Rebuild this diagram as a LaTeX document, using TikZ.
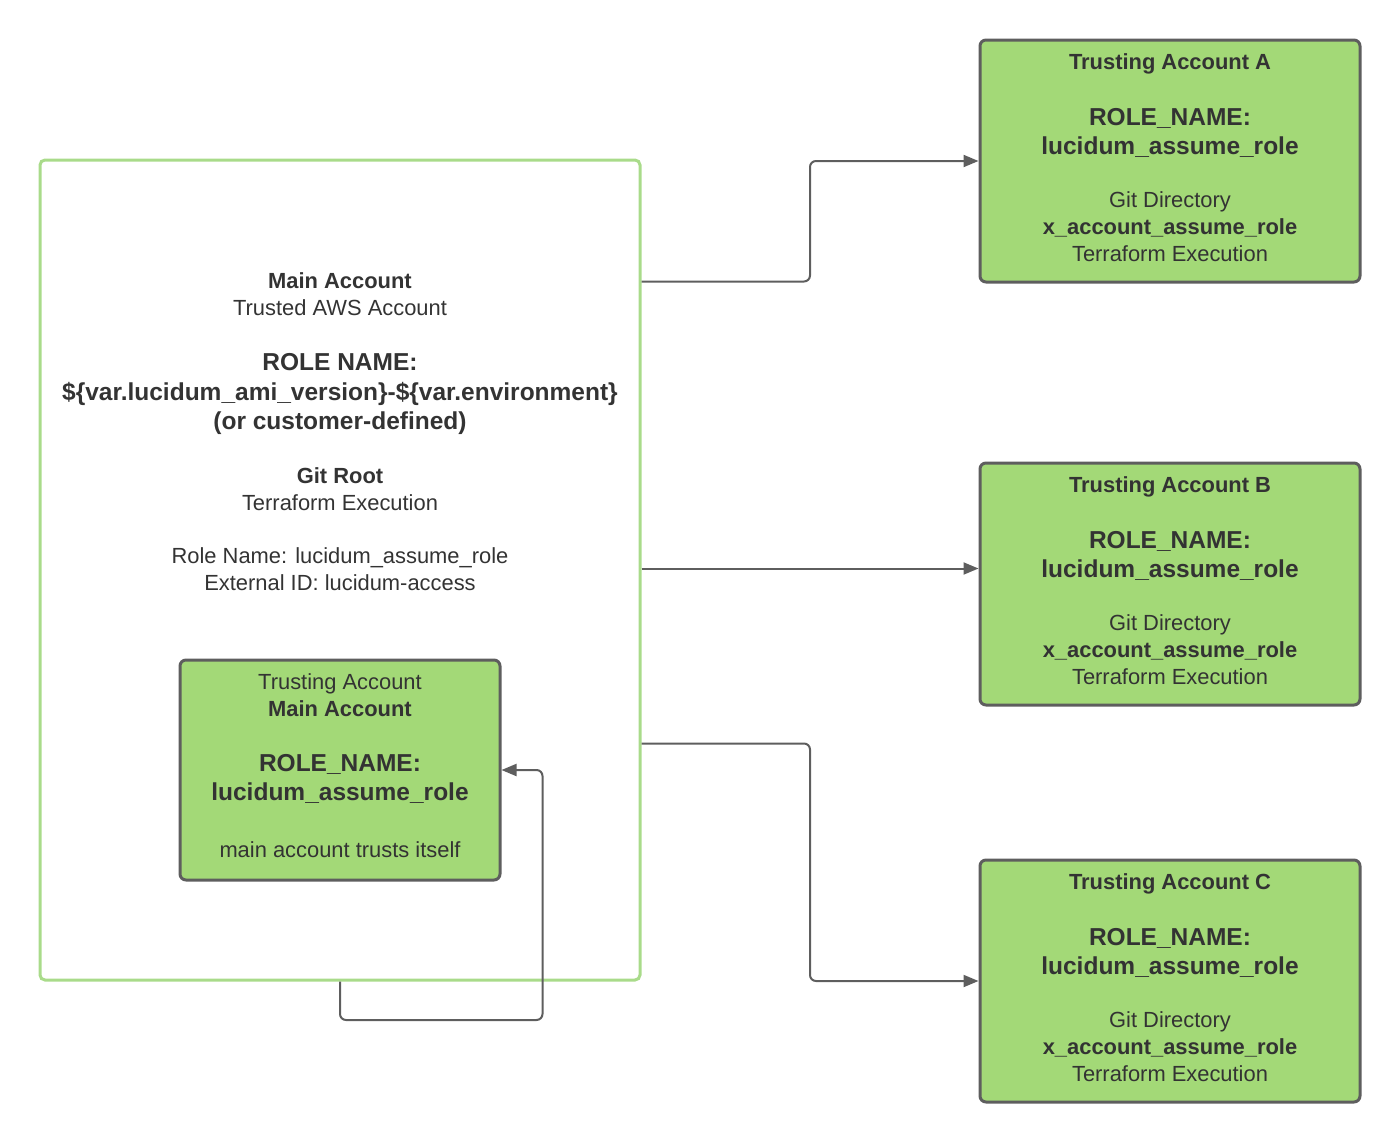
\documentclass[tikz,border=0pt]{standalone}
\usepackage{fontspec}
\setmainfont{Liberation Sans}
\usetikzlibrary{arrows.meta,calc}
\definecolor{gfill}{HTML}{A3D977}
\definecolor{gline}{HTML}{A9DB8A}
\definecolor{dline}{HTML}{5E5E5E}
\definecolor{txt}{HTML}{333333}
\tikzset{
  reg/.style={font=\fontsize{21.9}{27}\selectfont, text=txt, anchor=base, inner sep=0pt},
  regb/.style={font=\fontsize{21.9}{27}\selectfont\bfseries, text=txt, anchor=base, inner sep=0pt},
  big/.style={font=\fontsize{24.5}{29}\selectfont\bfseries, text=txt, anchor=base, inner sep=0pt},
  gbox/.style={draw=dline, fill=gfill, line width=3pt, rounded corners=6pt, inner sep=0pt},
  mainbox/.style={draw=gline, line width=3pt, rounded corners=5pt, inner sep=0pt},
  conn/.style={draw=dline, line width=2pt, rounded corners=6pt, -{Triangle[length=15pt,width=12pt]}},
}
\begin{document}
\begin{tikzpicture}[x=1pt,y=-1pt]
\useasboundingbox (0,0) rectangle (1400,1143);
% main box
\node[mainbox, minimum width=600, minimum height=820] (main) at (340,570) {};
\node[regb] (mt1) at (340,288) {Main Account};
\node[reg]  (mt2) at (340,315) {Trusted AWS Account};
\node[big]  (mt3) at (340,370) {ROLE NAME:};
\node[big]  (mt4) at (340,400) {\$\{var.lucidum\_ami\_version\}-\$\{var.environment\}};
\node[big]  (mt5) at (340,429) {(or customer-defined)};
\node[regb] (mt6) at (340,483) {Git Root};
\node[reg]  (mt7) at (340,510) {Terraform Execution};
\node[reg]  (mt8) at (340,563) {Role Name: lucidum\_assume\_role};
\node[reg]  (mt9) at (340,590) {External ID: lucidum-access};
% inner box
\node[gbox, minimum width=320, minimum height=220] (inner) at (340,770) {};
\node[reg]  (it1) at (340,689) {Trusting Account};
\node[regb] (it2) at (340,716) {Main Account};
\node[big]  (it3) at (340,771) {ROLE\_NAME:};
\node[big]  (it4) at (340,800) {lucidum\_assume\_role};
\node[reg]  (it5) at (340,857) {main account trusts itself};
% right boxes
\foreach \L/\t in {A/40,B/463,C/860}{
  \node[gbox, minimum width=380, minimum height=242] (acc\L) at (1170,{\t+121}) {};
  \node[regb] (a\L1) at (1170,{\t+29}) {Trusting Account \L};
  \node[big]  (a\L2) at (1170,{\t+85}) {ROLE\_NAME:};
  \node[big]  (a\L3) at (1170,{\t+114}) {lucidum\_assume\_role};
  \node[reg]  (a\L4) at (1170,{\t+167}) {Git Directory};
  \node[regb] (a\L5) at (1170,{\t+194}) {x\_account\_assume\_role};
  \node[reg]  (a\L6) at (1170,{\t+221}) {Terraform Execution};
}
% connector start points on the main box edge
\coordinate (mA) at ($(main.north east)+(0,123)$);
\coordinate (mB) at ($(main.north east)+(0,410)$);
\coordinate (mC) at ($(main.north east)+(0,585)$);
\draw[conn] (mA) -| ($(mA)!0.5!(accA.west)$) |- (accA.west);
\draw[conn] (mB) -- (mB -| accB.west);
\draw[conn] (mC) -| ($(mC)!0.5!(accC.west)$) |- (accC.west);
\draw[conn] (main.south) |- ($(inner.east)+(41,250)$) |- (inner.east);
\end{tikzpicture}
\end{document}
